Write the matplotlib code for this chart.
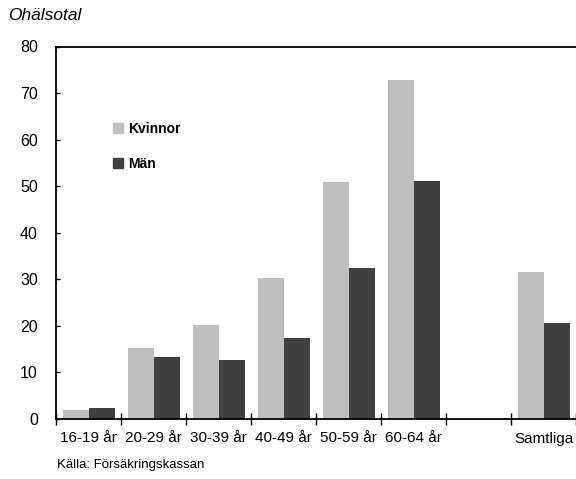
import numpy as np
import matplotlib
matplotlib.use("Agg")
import matplotlib.pyplot as plt
from matplotlib.lines import Line2D

plt.rcParams["font.family"] = ["Liberation Sans", "DejaVu Sans"]

categories = ["16-19 år", "20-29 år", "30-39 år", "40-49 år", "50-59 år", "60-64 år", "", "Samtliga"]
kvinnor = [1.9, 15.3, 20.1, 30.3, 51.0, 72.7, np.nan, 31.6]
man = [2.4, 13.3, 12.7, 17.4, 32.5, 51.2, np.nan, 20.7]
series_names = ["Kvinnor", "Män"]
colors = ["#bfbfbf", "#404040"]

fig = plt.figure(figsize=(5.76, 4.79), dpi=100)
ax = fig.add_axes([56 / 576, 1 - 419 / 479, 1 - 56 / 576, (419 - 46.5) / 479])

x = np.arange(len(categories))
w = 0.4
ax.bar(x - w / 2, kvinnor, w, color=colors[0], edgecolor="none")
ax.bar(x + w / 2, man, w, color=colors[1], edgecolor="none")

ax.set_xlim(-0.5, len(categories) - 0.5)
ax.set_ylim(0, 80)
ax.set_yticks(np.arange(0, 81, 10))
ax.tick_params(axis="y", direction="in", length=3, width=1, labelsize=11.5, pad=13)
ax.set_xticks(np.arange(len(categories) + 1) - 0.5, minor=False)
ax.set_xticklabels([])
ax.tick_params(axis="x", which="major", direction="inout", length=8, width=1)
ax.set_xticks(x, minor=True)
ax.set_xticklabels(categories, minor=True)
ax.tick_params(axis="x", which="minor", length=0, labelsize=11, pad=9)

for s in ["left", "bottom", "top"]:
    ax.spines[s].set_linewidth(1.3)
ax.spines["right"].set_visible(False)

handles = [Line2D([], [], marker="s", linestyle="none", markersize=7.5,
                  markerfacecolor=c, markeredgecolor=c) for c in colors]
ax.legend(handles, series_names, loc="upper left", bbox_to_anchor=(0.108, 0.797),
          frameon=False, borderpad=0, borderaxespad=0, handlelength=0.8,
          handletextpad=0.35, labelspacing=1.5,
          prop={"weight": "bold", "size": 10})

fig.text(8 / 576, 1 - 15 / 479, "Ohälsotal", fontsize=12.5, style="italic",
         va="center", ha="left")
fig.text(57 / 576, 1 - 465 / 479, "Källa: Försäkringskassan", fontsize=9.5,
         va="center", ha="left")

fig.savefig("out.png", dpi=100)
